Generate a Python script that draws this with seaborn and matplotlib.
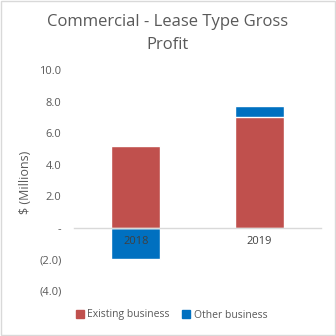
import matplotlib
matplotlib.use("Agg")
import matplotlib.pyplot as plt
import seaborn as sns
import pandas as pd
from matplotlib.patches import Rectangle
from matplotlib.lines import Line2D

years = ["2018", "2019"]
existing_business = [5.2, 7.0]
other_business = [-2.0, 0.7]
y_ticks = [-4.0, -2.0, 0.0, 2.0, 4.0, 6.0, 8.0, 10.0]

RED = "#C0504D"
BLUE = "#0070C0"
GREY_TEXT = "#595959"

sns.set_theme(style="white")
plt.rcParams["font.family"] = ["Open Sans", "DejaVu Sans"]

# stacked layers: negatives grow down from zero, positives sit on the existing bar
stack_top = [o if o < 0 else e + o for e, o in zip(existing_business, other_business)]
df = pd.DataFrame({"year": years, "existing": existing_business, "stack": stack_top})

fig = plt.figure(figsize=(3.36, 3.36), dpi=100)
ax = fig.add_axes([74 / 336, 1 - 291 / 336, 247 / 336, 221 / 336])

sns.barplot(data=df, x="year", y="stack", color=BLUE, width=0.4, saturation=1, ax=ax)
sns.barplot(data=df, x="year", y="existing", color=RED, width=0.4, saturation=1, ax=ax)

ax.set_axisbelow(False)
ax.set_ylim(-4, 10)
ax.set_xlim(-0.5, 1.5)
ax.set_yticks(y_ticks)


def fmt(v):
    if v == 0:
        return "-"
    if v < 0:
        return f"({abs(v):.1f})"
    return f"{v:.1f}"


ax.set_yticklabels([fmt(v) for v in y_ticks])
ax.tick_params(axis="y", length=0, pad=9, labelsize=8, labelcolor=GREY_TEXT)
ax.tick_params(axis="x", length=0, pad=6, labelsize=8, labelcolor="#404040")

for s in ["left", "right", "top"]:
    ax.spines[s].set_visible(False)
ax.spines["bottom"].set_position(("data", 0))
ax.spines["bottom"].set_color("#D9D9D9")
ax.spines["bottom"].set_linewidth(1.0)

ax.set_xlabel("")
ax.set_ylabel("$ (Millions)", fontsize=9, color=GREY_TEXT)
ax.yaxis.set_label_coords(-0.17, 0.49)

fig.text(0.5, 1 - 22 / 336, "Commercial - Lease Type Gross", ha="center", va="center",
         fontsize=12, color=GREY_TEXT)
fig.text(0.5, 1 - 45 / 336, "Profit", ha="center", va="center",
         fontsize=12, color=GREY_TEXT)

handles = [Line2D([], [], marker="s", linestyle="none", color=RED, markersize=5.5),
           Line2D([], [], marker="s", linestyle="none", color=BLUE, markersize=5.5)]
fig.legend(handles, ["Existing business", "Other business"], loc="center",
           bbox_to_anchor=(0.51, 1 - 315 / 336), ncol=2, frameon=False,
           fontsize=7.5, labelcolor=GREY_TEXT, handletextpad=0.3, columnspacing=1.2,
           handlelength=0.8)

fig.patches.append(Rectangle((0.002, 0.002), 0.996, 0.996, transform=fig.transFigure,
                             fill=False, edgecolor="#D9D9D9", linewidth=1))

fig.savefig("out.png", dpi=100)
